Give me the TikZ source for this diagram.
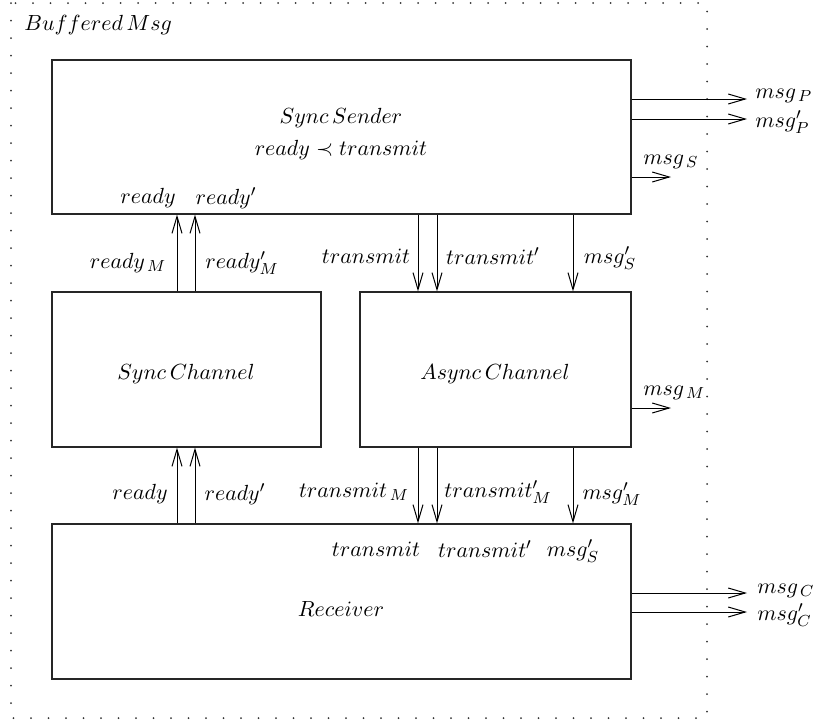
\documentclass[tikz,border=0pt]{standalone}
\usetikzlibrary{arrows.meta}
\begin{document}
\begin{tikzpicture}[x=0.5pt,y=-0.5pt,
  font=\fontsize{10.8}{13}\selectfont,
  box/.style={draw=black!85,line width=0.6pt,rectangle,inner sep=0pt},
  sig/.style={line width=0.5pt,-{Straight Barb[length=8.5pt,width=5pt]}},
  lbl/.style={inner sep=0pt},
  outer/.style={line width=1pt,line cap=round,dash pattern=on 0pt off 8.75pt,black!80}]
\useasboundingbox (0,0) rectangle (814,723);
\draw[outer] (11,3) rectangle (707,718);
\node[lbl,anchor=west] (title) at (24,25) {$Buffered\,Msg$};
% boxes
\node[box,minimum width=289.5pt,minimum height=77pt] (ss) at (341.5,137) {};
\node[box,minimum width=134.5pt,minimum height=77.5pt] (sc) at (186.5,369.5) {};
\node[box,minimum width=135.5pt,minimum height=77.5pt] (ac) at (495.5,369.5) {};
\node[box,minimum width=289.5pt,minimum height=77.5pt] (rc) at (341.5,601.5) {};
% box texts
\node[lbl] (ssname) at (341,118) {$Sync\,Sender$};
\node[lbl] (ssprec) at (341,150) {$ready \prec transmit$};
\node[lbl] (scname) at (186,374) {$Sync\,Channel$};
\node[lbl] (acname) at (495,374) {$Async\,Channel$};
\node[lbl] (rcname) at (341,609) {$Receiver$};
% x positions
\coordinate (xa) at (177,0);
\coordinate (xb) at (195,0);
\coordinate (xc) at (418,0);
\coordinate (xd) at (437,0);
\coordinate (xe) at (573,0);
% ready arrows
\draw[sig] (xa |- sc.north) -- (xa |- ss.south);
\draw[sig] (xb |- sc.north) -- (xb |- ss.south);
\draw[sig] (xa |- rc.north) -- (xa |- sc.south);
\draw[sig] (xb |- rc.north) -- (xb |- sc.south);
% transmit arrows
\draw[sig] (xc |- ss.south) -- (xc |- ac.north);
\draw[sig] (xd |- ss.south) -- (xd |- ac.north);
\draw[sig] (xe |- ss.south) -- (xe |- ac.north);
\draw[sig] (xc |- ac.south) -- (xc |- rc.north);
\draw[sig] (xd |- ac.south) -- (xd |- rc.north);
\draw[sig] (xe |- ac.south) -- (xe |- rc.north);
% outputs
\coordinate (yp) at (0,99);
\coordinate (ypp) at (0,119);
\coordinate (ys) at (0,177);
\coordinate (ym) at (0,408);
\coordinate (yc) at (0,593);
\coordinate (ycc) at (0,612);
\coordinate (ep) at (747,99);
\coordinate (epp) at (747,119);
\coordinate (es) at (671,177);
\coordinate (em) at (671,408);
\coordinate (ec) at (747,593);
\coordinate (ecc) at (747,612);
\draw[sig] (ss.east |- yp) -- (ep);
\draw[sig] (ss.east |- ypp) -- (epp);
\draw[sig] (ss.east |- ys) -- (es);
\draw[sig] (ac.east |- ym) -- (em);
\draw[sig] (rc.east |- yc) -- (ec);
\draw[sig] (rc.east |- ycc) -- (ecc);
\node[lbl,anchor=west] (lp) at (755,96) {$msg_{\,P}$};
\node[lbl,anchor=west] (lpp) at (755,122) {$msg'_P$};
\node[lbl,anchor=west] (ls) at (643,162) {$msg_{\,S}$};
\node[lbl,anchor=west] (lm) at (643,393) {$msg_{\,M}$};
\node[lbl,anchor=west] (lc) at (757,591) {$msg_{\,C}$};
\node[lbl,anchor=west] (lcc) at (757,615) {$msg'_C$};
% port labels
\node[lbl] (r1) at (148,198) {$ready$};
\node[lbl] (r2) at (226,198) {$ready'$};
\node[lbl] (rm1) at (128,263) {$ready_{\,M}$};
\node[lbl] (rm2) at (242,263) {$ready'_M$};
\node[lbl] (t1) at (366,256) {$transmit$};
\node[lbl] (t2) at (493,256) {$transmit'$};
\node[lbl] (m1) at (610,258) {$msg'_S$};
\node[lbl] (r3) at (140,494) {$ready$};
\node[lbl] (r4) at (235,494) {$ready'$};
\node[lbl] (tm1) at (354,492) {$transmit_{\,M}$};
\node[lbl] (tm2) at (498,492) {$transmit'_M$};
\node[lbl] (mm) at (612,494) {$msg'_M$};
\node[lbl] (t3) at (376,549) {$transmit$};
\node[lbl] (t4) at (485,549) {$transmit'$};
\node[lbl] (m2) at (573,551) {$msg'_S$};
\end{tikzpicture}
\end{document}
